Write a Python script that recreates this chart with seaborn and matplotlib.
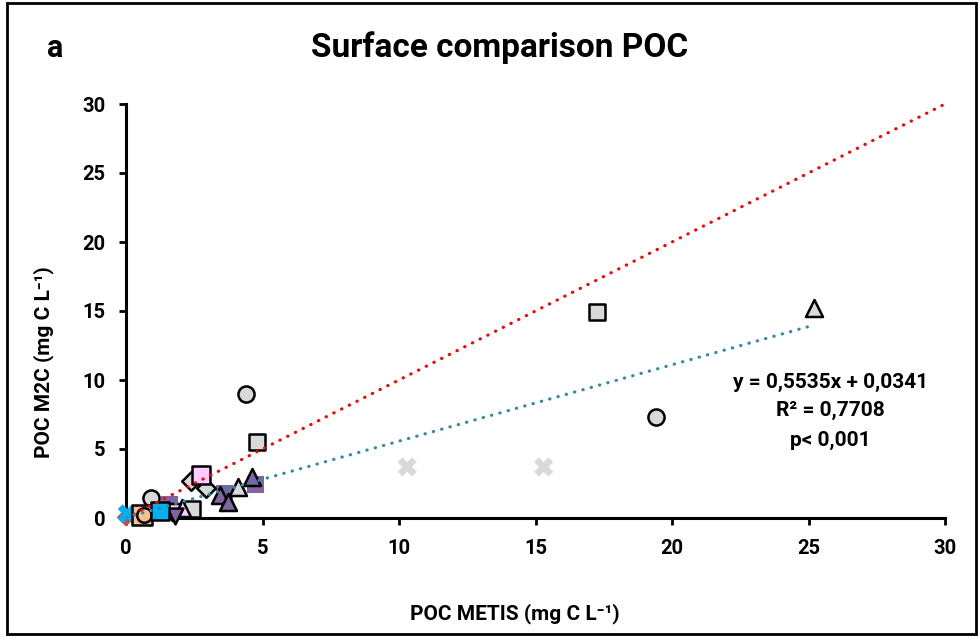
import matplotlib
matplotlib.use("Agg")
import matplotlib.pyplot as plt
import seaborn as sns
from matplotlib.patches import Rectangle

# data (POC METIS vs POC M2C, mg C/L)
grey_circle_x = [4.4, 19.4, 0.92]
grey_circle_y = [9.0, 7.35, 1.45]
grey_square_x = [17.25, 4.8, 2.4]
grey_square_y = [14.9, 5.5, 0.65]
grey_tri_x = [25.2, 4.1]
grey_tri_y = [15.2, 2.25]
grey_diamond_x = [2.38, 2.93]
grey_diamond_y = [2.65, 2.2]
grey_cross_x = [10.3, 15.3]
grey_cross_y = [3.7, 3.7]
purple_square_x = [4.76, 3.6, 1.6]
purple_square_y = [2.4, 1.75, 1.0]
purple_tri_x = [3.44, 3.74, 4.6]
purple_tri_y = [1.67, 1.16, 3.0]
pink_square_x = [2.75]
pink_square_y = [3.1]
pink_tri_x = [2.05]
pink_tri_y = [0.75]
pink_vtri_x = [1.7]
pink_vtri_y = [0.4]
purple_vtri_x = [1.8]
purple_vtri_y = [0.15]
orange_square_x = [0.6]
orange_square_y = [0.2]
orange_circle_x = [0.65]
orange_circle_y = [0.2]
blue_square_x = [1.25]
blue_square_y = [0.5]
blue_cross_x = [0.05]
blue_cross_y = [0.3]
red_diamond_x = [0.0]
red_diamond_y = [0.05]

slope = 0.5535
intercept = 0.0341
fit_x = [0, 25.2]
one_x = [0, 30]

sns.set_style("white")
plt.rcParams['font.family'] = ['Roboto', 'DejaVu Sans']
plt.rcParams['font.weight'] = 'bold'
plt.rcParams['text.color'] = 'black'
plt.rcParams['xtick.color'] = 'black'
plt.rcParams['ytick.color'] = 'black'

fig = plt.figure(figsize=(9.8, 6.37), dpi=100)
ax = fig.add_axes([126/980, 1 - 518/637, 819/980, 414/637])

# 1:1 line and regression line
sns.lineplot(x=one_x, y=one_x, ax=ax, color='#ff0000', lw=2.3,
             linestyle=(0, (0.1, 2.6)), dash_capstyle='round', zorder=4)
sns.lineplot(x=fit_x, y=[slope * v + intercept for v in fit_x], ax=ax, color='#2f8da3',
             lw=2.3, linestyle=(0, (0.1, 2.6)), dash_capstyle='round', zorder=4)

groups = [
    (purple_square_x, purple_square_y, 's', '#8064a2', 'none', 150),
    (grey_cross_x, grey_cross_y, 'X', '#d9d9d9', 'none', 190),
    (red_diamond_x, red_diamond_y, 'D', '#c0504d', 'none', 90),
    (blue_cross_x, blue_cross_y, 'X', '#00b0f0', 'none', 190),
    (grey_circle_x, grey_circle_y, 'o', '#d9d9d9', 'black', 135),
    (grey_square_x, grey_square_y, 's', '#d9d9d9', 'black', 135),
    (grey_tri_x, grey_tri_y, '^', '#d9d9d9', 'black', 150),
    (grey_diamond_x, grey_diamond_y, 'D', '#d9d9d9', 'black', 90),
    (purple_tri_x, purple_tri_y, '^', '#8064a2', 'black', 150),
    (pink_square_x, pink_square_y, 's', '#ffccff', 'black', 150),
    (pink_tri_x, pink_tri_y, '^', '#ffccff', 'black', 150),
    (pink_vtri_x, pink_vtri_y, 'v', '#ffccff', 'black', 150),
    (purple_vtri_x, purple_vtri_y, 'v', '#8064a2', 'black', 130),
    (orange_square_x, orange_square_y, 's', '#fac090', 'black', 210),
    (orange_circle_x, orange_circle_y, 'o', '#fac090', 'black', 110),
    (blue_square_x, blue_square_y, 's', '#00b0f0', 'black', 150),
]
for gx, gy, m, fc, ec, size in groups:
    sns.scatterplot(x=gx, y=gy, ax=ax, marker=m, color=fc, edgecolor=ec,
                    linewidth=1.8 if ec != 'none' else 0, s=size, clip_on=False, zorder=3)

ax.set_xlim(0, 30)
ax.set_ylim(0, 30)
ax.set_xticks(range(0, 31, 5))
ax.set_yticks(range(0, 31, 5))
for side in ['top', 'right']:
    ax.spines[side].set_visible(False)
for side in ['left', 'bottom']:
    ax.spines[side].set_linewidth(2.2)
    ax.spines[side].set_color('black')
ax.tick_params(axis='both', direction='out', length=5, width=2, color='black',
               labelsize=14.5, left=True, bottom=True)
ax.tick_params(axis='x', pad=10)
ax.tick_params(axis='y', pad=10)
for lab in ax.get_xticklabels() + ax.get_yticklabels():
    lab.set_fontweight('bold')

ax.text(25.8, 9.8, 'y = 0,5535x + 0,0341', ha='center', va='center', fontsize=15, fontweight='bold')
ax.text(25.8, 7.8, 'R² = 0,7708', ha='center', va='center', fontsize=15, fontweight='bold')
ax.text(25.8, 5.6, 'p< 0,001', ha='center', va='center', fontsize=15, fontweight='bold')

fig.text(0.51, 0.925, 'Surface comparison POC', ha='center', va='center', fontsize=24, fontweight='bold')
fig.text(0.056, 0.925, 'a', ha='center', va='center', fontsize=22, fontweight='bold')
fig.text(0.525, 0.036, 'POC METIS (mg C L⁻¹)', ha='center', va='center', fontsize=15, fontweight='bold')
fig.text(0.045, 0.432, 'POC M2C (mg C L⁻¹)', ha='center', va='center', rotation=90,
         fontsize=15, fontweight='bold')

fig.patches.append(Rectangle((7/980, 3/637), 969/980, 631/637, transform=fig.transFigure,
                             fill=False, edgecolor='black', linewidth=2, zorder=10))

fig.savefig('out.png', dpi=100)
